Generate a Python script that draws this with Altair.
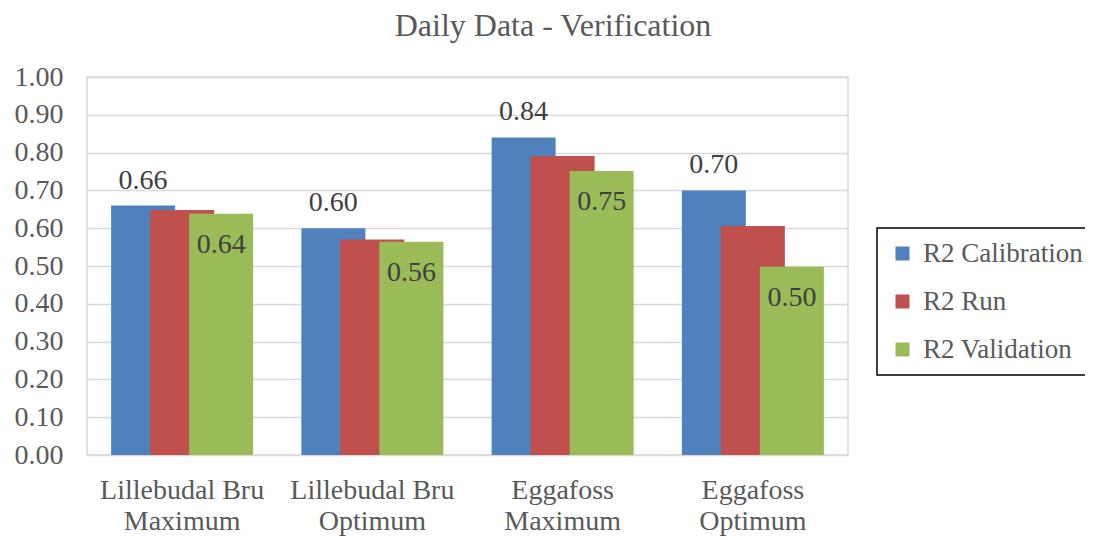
import altair as alt
import pandas as pd

title_text = ["Daily Data - Verification"]
categories = ["Lillebudal Bru\nMaximum", "Lillebudal Bru\nOptimum", "Eggafoss\nMaximum", "Eggafoss\nOptimum"]
series = ["R2 Calibration", "R2 Run", "R2 Validation"]
calibration = [0.66, 0.60, 0.84, 0.70]
run = [0.648, 0.570, 0.791, 0.606]
validation = [0.638, 0.564, 0.751, 0.498]
colors = ["#4f81bd", "#c0504d", "#9bbb59"]
y_ticks = [0.0, 0.1, 0.2, 0.3, 0.4, 0.5, 0.6, 0.7, 0.8, 0.9, 1.0]

rows = []
for i, c in enumerate(categories):
    for s, vals in zip(series, [calibration, run, validation]):
        rows.append({"category": c, "series": s, "value": vals[i]})
df = pd.DataFrame(rows)

FONT = "Liberation Serif"

x_enc = alt.X("category:N", sort=categories,
              scale=alt.Scale(paddingInner=0.385, paddingOuter=0.1925),
              axis=alt.Axis(title=None, labelExpr="split(datum.label, '\\n')",
                            labelAngle=0, labelFont=FONT, labelFontSize=28,
                            labelColor="#595959", labelLineHeight=31,
                            labelPadding=21, ticks=False, domain=False))
xo_enc = alt.XOffset("series:N", sort=series,
                     scale=alt.Scale(paddingInner=0, paddingOuter=0))
y_enc = alt.Y("value:Q", scale=alt.Scale(domain=[0, 1]),
              axis=alt.Axis(title=None, values=y_ticks, format=".2f",
                            labelFont=FONT, labelFontSize=28, labelColor="#595959",
                            labelPadding=24, ticks=False, domain=False,
                            gridColor="#d9d9d9", gridWidth=1.5))

base = alt.Chart(df)

bars = base.mark_bar(width=64).encode(
    x=x_enc, xOffset=xo_enc, y=y_enc,
    color=alt.Color("series:N", sort=series,
                    scale=alt.Scale(domain=series, range=colors),
                    legend=alt.Legend(orient="none", legendX=790, legendY=151,
                                      title=None, symbolType="square",
                                      symbolSize=196, symbolStrokeWidth=0,
                                      labelFont=FONT, labelFontSize=27,
                                      labelColor="#595959", rowPadding=20,
                                      labelOffset=7)),
)

top_labels = base.transform_filter(alt.datum.series == "R2 Calibration").mark_text(
    font=FONT, fontSize=28, color="#404040", baseline="alphabetic", dy=-17
).encode(x=x_enc, xOffset=xo_enc, y=y_enc, text=alt.Text("value:Q", format=".2f"))

in_labels = base.transform_filter(alt.datum.series == "R2 Validation").mark_text(
    font=FONT, fontSize=28, color="#404040", baseline="alphabetic", dy=39
).encode(x=x_enc, xOffset=xo_enc, y=y_enc, text=alt.Text("value:Q", format=".2f"))

title = alt.Chart(pd.DataFrame({"t": title_text})).mark_text(
    font=FONT, fontSize=32, color="#595959", baseline="alphabetic", align="center"
).encode(x=alt.value(466), y=alt.value(-41), text="t:N")

chart = alt.layer(bars, top_labels, in_labels, title).properties(
    width=761, height=378,
    autosize=alt.AutoSizeParams(type="none"),
    padding={"left": 79, "top": 69, "right": 237, "bottom": 84},
).configure_view(stroke="#d9d9d9", strokeWidth=1.5).configure_legend(
    strokeColor="black", strokeWidth=1.5, padding=12
)

chart.save("out.html", embed_options={"renderer": "svg", "actions": False})
